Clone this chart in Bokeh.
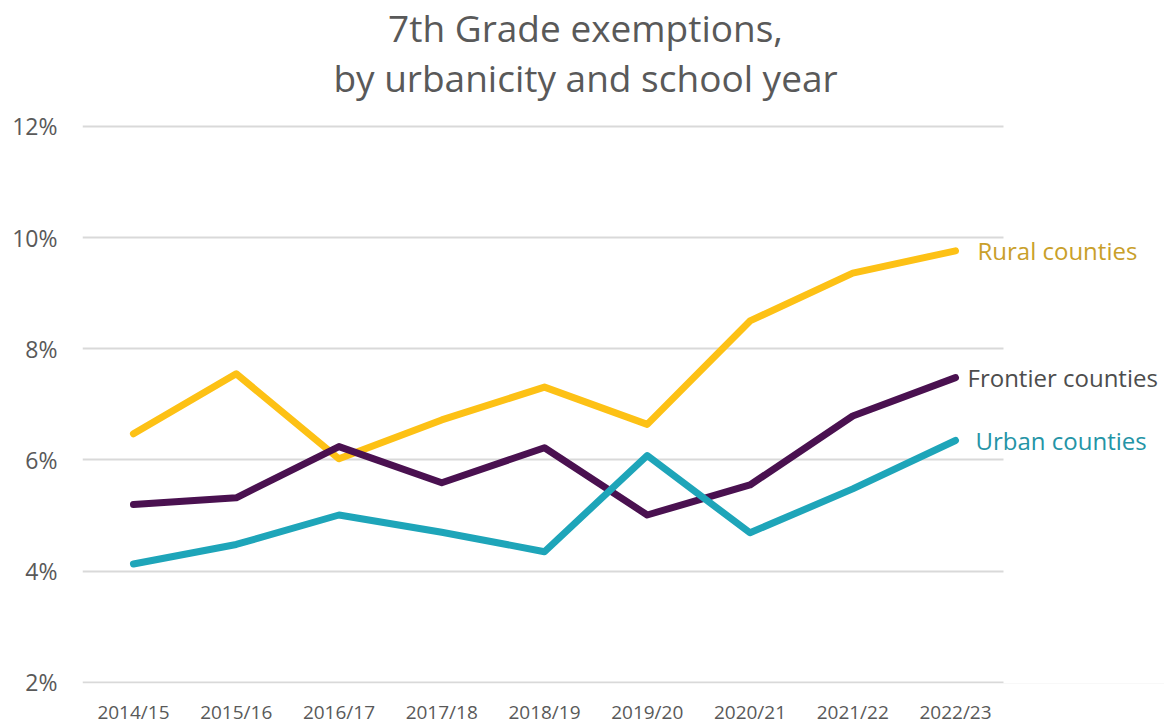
from bokeh.plotting import figure
from bokeh.models import (Range1d, FixedTicker, PrintfTickFormatter,
                          Label, ColumnDataSource, BoxAnnotation)
from bokeh.embed import file_html
from bokeh.resources import INLINE

years = ["2014/15", "2015/16", "2016/17", "2017/18", "2018/19",
         "2019/20", "2020/21", "2021/22", "2022/23"]
rural = [6.47, 7.55, 6.02, 6.72, 7.31, 6.64, 8.50, 9.36, 9.76]
frontier = [5.20, 5.32, 6.24, 5.59, 6.22, 5.01, 5.55, 6.79, 7.48]
urban = [4.13, 4.48, 5.01, 4.70, 4.35, 6.08, 4.69, 5.48, 6.35]
y_ticks = [2, 4, 6, 8, 10, 12]
title_lines = ["7th Grade exemptions,", "by urbanicity and school year"]

series = [
    ("Rural counties", rural, "#FDC115", "#C9A02A", 22),
    ("Frontier counties", frontier, "#4A1150", "#4D4D4D", 12),
    ("Urban counties", urban, "#1EA5B9", "#2494A6", 20),
]

FONT = "Open Sans"
xpos = list(range(len(years)))

p = figure(width=1164, height=727, output_backend="svg", toolbar_location=None,
           x_range=Range1d(-0.496, 10.034),
           y_range=Range1d(1.98, 14.262),
           min_border_left=82, min_border_right=0, min_border_top=0,
           min_border_bottom=43)
p.outline_line_color = None
p.background_fill_color = "white"
p.border_fill_color = "white"

p.xgrid.grid_line_color = None
p.ygrid.grid_line_color = "#D9D9D9"
p.ygrid.grid_line_width = 2
p.yaxis.ticker = FixedTicker(ticks=y_ticks)
p.yaxis.formatter = PrintfTickFormatter(format="%d%%")
p.xaxis.ticker = FixedTicker(ticks=xpos)
p.xaxis.major_label_overrides = {i: y for i, y in zip(xpos, years)}

for ax in (p.xaxis, p.yaxis):
    ax.axis_line_color = None
    ax.major_tick_line_color = None
    ax.minor_tick_line_color = None
    ax.major_tick_out = 0
    ax.major_tick_in = 0
    ax.minor_tick_out = 0
    ax.axis_label_standoff = 0
    ax.major_label_text_font = FONT
    ax.major_label_text_color = "#595959"
p.yaxis.major_label_text_font_size = "23px"
p.yaxis.major_label_standoff = 25
p.xaxis.major_label_text_font_size = "19px"
p.xaxis.major_label_standoff = 15

# hide grid lines to the right of the plotting area (label zone)
p.add_layout(BoxAnnotation(left=8.467, fill_color="white", fill_alpha=1,
                           line_color=None, level="underlay"))

for name, vals, color, tcolor, off in series:
    src = ColumnDataSource(data=dict(x=xpos, y=vals))
    p.line("x", "y", source=src, line_color=color, line_width=7, line_cap="round",
           line_join="round")
    p.add_layout(Label(x=xpos[-1], y=vals[-1], text=name, x_offset=off,
                       text_font=FONT, text_font_size="24px", text_color=tcolor,
                       text_baseline="middle", text_align="left"))

# two-line title, each line centred
for line, sy in zip(title_lines, [656, 606]):
    p.add_layout(Label(x=503, y=sy, x_units="screen", y_units="screen", text=line,
                       text_font=FONT, text_font_size="37px", text_color="#595959",
                       text_align="center", text_baseline="alphabetic"))

open("out.html", "w").write(file_html(p, INLINE))
